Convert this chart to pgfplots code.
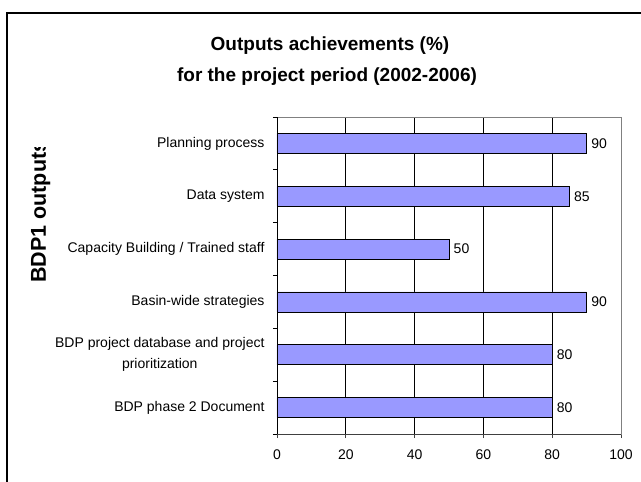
\documentclass[border=0pt]{standalone}
\usepackage{pgfplots}
\pgfplotsset{compat=1.18}
\usepackage{fontspec}
\setmainfont{Liberation Sans}
\definecolor{barblue}{HTML}{9999FF}
\definecolor{plotframe}{HTML}{808080}
\definecolor{darkaxis}{HTML}{404040}

\begin{document}
\begin{tikzpicture}[x=1pt,y=1pt]
\path[use as bounding box] (0,0) rectangle (641,482);
% outer chart frame (cut off on the right and bottom)
\draw[line width=1.6pt] (7,0) -- (7,469) -- (641,469);
% title
\node[font=\bfseries\fontsize{19}{23}\selectfont, anchor=base, inner sep=0] at (330,431) {Outputs achievements (\%)};
\node[font=\bfseries\fontsize{19}{23}\selectfont, anchor=base, inner sep=0] at (327,400) {for the project period (2002-2006)};
% y label, clipped at the top as in the original
\begin{scope}
\clip (0,0) rectangle (641,334);
\node[font=\bfseries\fontsize{21.5}{25}\selectfont, rotate=90, anchor=base west, inner sep=0] at (46,199) {BDP1 outputs};
\end{scope}

\begin{axis}[
  at={(277pt,48pt)}, anchor=south west,
  width=344pt, height=317pt, scale only axis,
  xbar, bar width=20pt, bar shift=0pt,
  xmin=0, xmax=100,
  xtick={0,20,40,60,80,100},
  ymin=-0.5, ymax=5.5, y dir=reverse,
  ytick={0,1,2,3,4,5},
  yticklabels={Planning process, Data system, Capacity Building / Trained staff, Basin-wide strategies, {BDP project database and project\\prioritization}, BDP phase 2 Document},
  minor ytick={-0.5,0.5,1.5,2.5,3.5,4.5,5.5},
  xtick pos=bottom, ytick pos=left,
  major y tick style={draw=none},
  minor y tick style={black, line width=0.8pt},
  x tick style={darkaxis, line width=0.8pt},
  tick align=outside,
  major tick length=4pt, minor tick length=4pt,
  xmajorgrids, major x grid style={black, line width=0.6pt},
  axis line style={plotframe, line width=0.8pt},
  /pgf/number format/assume math mode=true,
  tick label style={font=\fontsize{14}{21}\selectfont},
  yticklabel style={align=center, xshift=-5pt},
  xticklabel style={yshift=-8pt},
  nodes near coords,
  every node near coord/.append style={font=\fontsize{14}{16}\selectfont, black, anchor=west, xshift=1pt},
]
\addplot[fill=barblue, draw=black, line width=0.8pt] coordinates {
(90,0)
(85,1)
(50,2)
(90,3)
(80,4)
(80,5)
};
\end{axis}
\draw[black, line width=0.9pt] (277,48) -- (277,365);
\draw[darkaxis, line width=0.9pt] (277,48) -- (621,48);
\end{tikzpicture}
\end{document}
